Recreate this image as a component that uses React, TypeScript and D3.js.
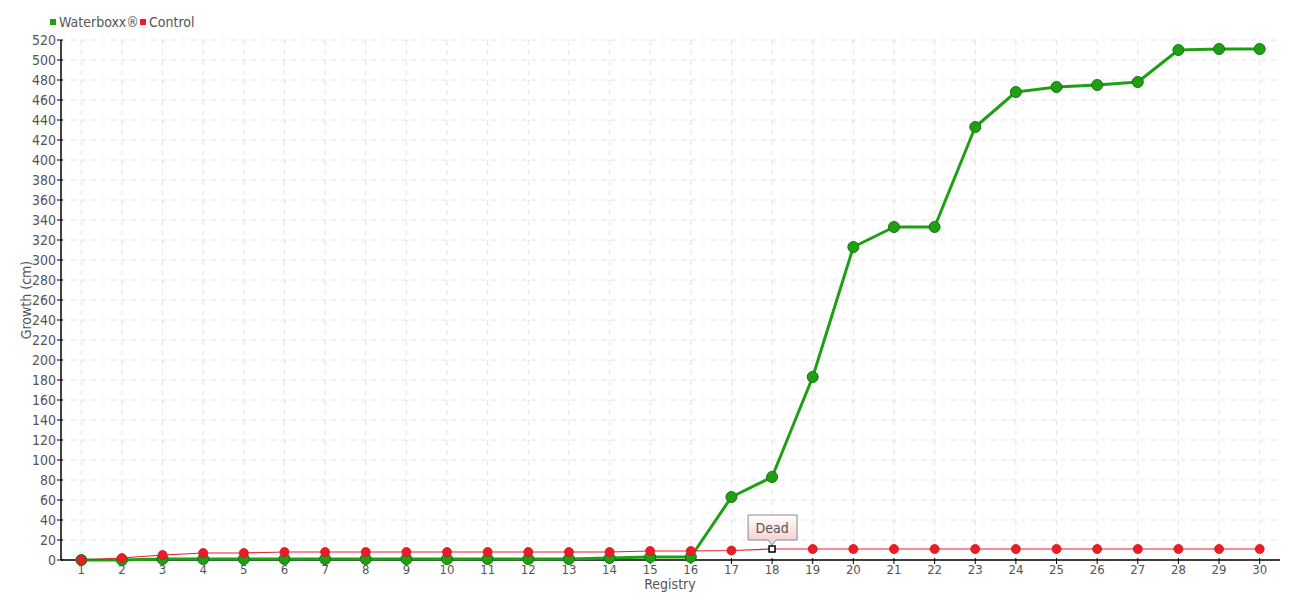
import React from "react";
import * as d3 from "d3";

const categories = Array.from({ length: 30 }, (_, i) => String(i + 1));
const waterboxx = [0, 0, 1, 1, 1, 1, 1, 1, 1, 1, 1, 1, 1, 2, 3, 3, 63, 83, 183, 313, 333, 333, 433, 468, 473, 475, 478, 510, 511, 511];
const control = [0, 2, 5, 7, 7, 8, 8, 8, 8, 8, 8, 8, 8, 8, 9, 9, 9.5, 11, 11, 11, 11, 11, 11, 11, 11, 11, 11, 11, 11, 11];
const yTicks = d3.range(0, 521, 20);
const tooltipIndex = 17;
const tooltipText = "Dead";

const W = 1300, H = 600;
const M = { left: 61, right: 20, top: 40, bottom: 40 };
const FONT = "'DejaVu Sans Condensed', 'Liberation Sans Narrow', sans-serif";
const TXT = "#555";
const GREEN = "#1f9f14";
const RED = "#ec1c26";

export default function App() {
  const x = d3.scaleBand().domain(categories).range([M.left, W - M.right]);
  const y = d3.scaleLinear().domain([0, 520]).range([H - M.bottom, M.top]);
  const cx = (i: number) => (x(categories[i]) as number) + x.bandwidth() / 2;
  const line = d3.line<number>().x((_, i) => cx(i)).y((d) => y(d));
  const tx = cx(tooltipIndex), ty = y(control[tooltipIndex]);
  return (
    <svg width={W} height={H} style={{ position: "absolute", left: 0, top: 0 }} fontFamily={FONT}>
      <defs>
        <linearGradient id="tipg" x1="0" y1="0" x2="0" y2="1">
          <stop offset="0" stopColor="#ffffff" />
          <stop offset="1" stopColor="#f7caca" />
        </linearGradient>
      </defs>
      {yTicks.map((t) => (
        <line key={"gy" + t} x1={M.left} x2={W - M.right} y1={y(t)} y2={y(t)} stroke="#e2e2e2" strokeDasharray="5,5" />
      ))}
      {categories.map((c, i) => (
        <line key={"gx" + c} x1={cx(i)} x2={cx(i)} y1={M.top} y2={H - M.bottom} stroke="#e2e2e2" strokeDasharray="5,5" />
      ))}
      <line x1={M.left} x2={M.left} y1={M.top} y2={H - M.bottom} stroke="#000" strokeWidth={1.5} />
      <line x1={M.left} x2={W - M.right} y1={H - M.bottom} y2={H - M.bottom} stroke="#000" strokeWidth={1.5} />
      {yTicks.map((t) => (
        <g key={"ty" + t}>
          <line x1={M.left - 4} x2={M.left + 2} y1={y(t)} y2={y(t)} stroke="#000" />
          <text x={M.left - 5} y={y(t)} dy="0.35em" textAnchor="end" fontSize={14} fill={TXT}>{t}</text>
        </g>
      ))}
      {categories.map((c, i) => (
        <g key={"tx" + c}>
          <line x1={cx(i)} x2={cx(i)} y1={H - M.bottom - 2} y2={H - M.bottom + 4} stroke="#000" />
          <text x={cx(i)} y={H - M.bottom + 14} textAnchor="middle" fontSize={13} fill={TXT}>{c}</text>
        </g>
      ))}
      <text x={670} y={589} textAnchor="middle" fontSize={14} fill={TXT}>Registry</text>
      <text transform={`translate(31,300) rotate(-90)`} textAnchor="middle" fontSize={14} fill={TXT}>Growth (cm)</text>
      <path d={line(waterboxx) as string} fill="none" stroke={GREEN} strokeWidth={3} strokeLinejoin="round" />
      {waterboxx.map((v, i) => (
        <circle key={"wp" + i} cx={cx(i)} cy={y(v)} r={5.5} fill={GREEN} stroke="#16760e" strokeWidth={1} />
      ))}
      <path d={line(control) as string} fill="none" stroke={RED} strokeWidth={1.2} />
      {control.map((v, i) =>
        i === tooltipIndex ? (
          <rect key={"cp" + i} x={cx(i) - 3} y={y(v) - 3} width={6} height={6} fill="#fff" stroke="#000" strokeWidth={1.5} />
        ) : (
          <circle key={"cp" + i} cx={cx(i)} cy={y(v)} r={4.5} fill={RED} stroke="#d11420" strokeWidth={0.8} />
        )
      )}
      <g>
        <path
          d={`M${tx - 24},${ty - 34} H${tx + 25} V${ty - 9} H${tx + 4} L${tx},${ty - 4} L${tx - 4},${ty - 9} H${tx - 24} Z`}
          fill="url(#tipg)" stroke="#888" strokeWidth={1}
        />
        <text x={tx} y={ty - 16} textAnchor="middle" fontSize={14} fill={TXT}>{tooltipText}</text>
      </g>
      <rect x={50} y={19} width={6} height={6} fill={GREEN} />
      <text x={59} y={27} fontSize={14} fill={TXT}>Waterboxx®</text>
      <rect x={140} y={19} width={6} height={6} fill={RED} />
      <text x={149} y={27} fontSize={14} fill={TXT}>Control</text>
    </svg>
  );
}
